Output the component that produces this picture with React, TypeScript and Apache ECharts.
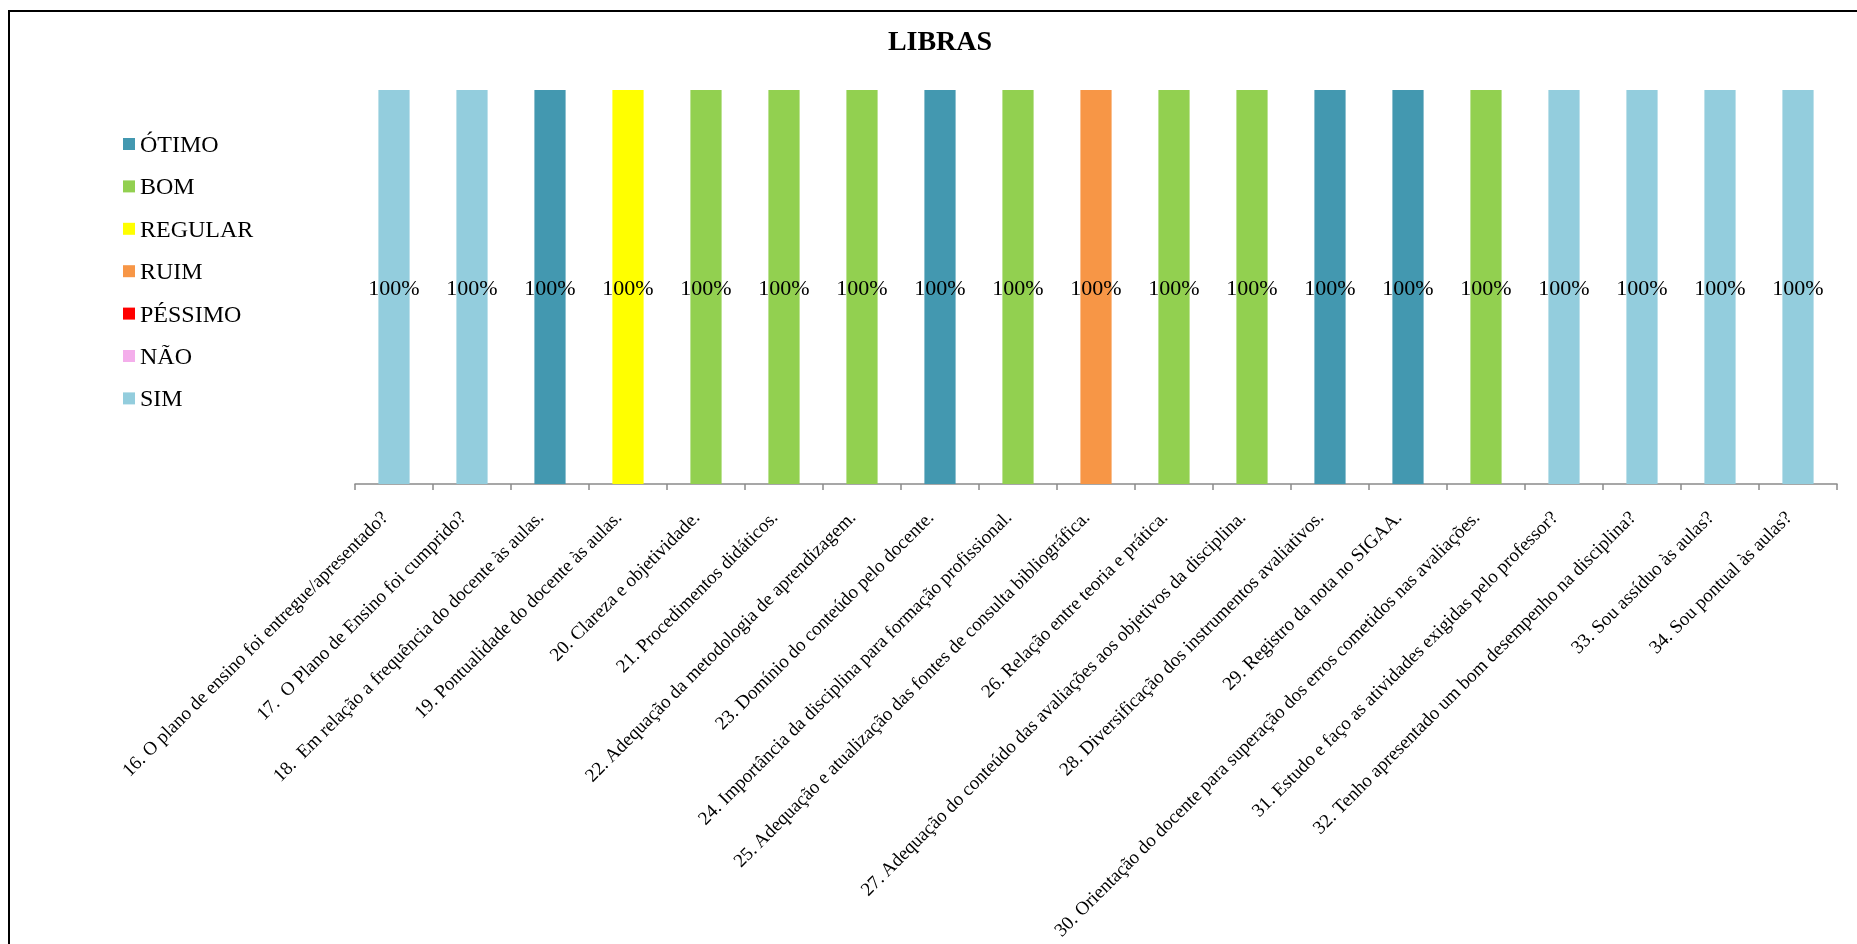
import React, { useEffect, useRef } from "react";
import * as echarts from "echarts";

const title = "LIBRAS";

const categories = [
  "16. O plano de ensino foi entregue/apresentado?",
  "17.  O Plano de Ensino foi cumprido?",
  "18.  Em relação a frequência do docente às aulas.",
  "19. Pontualidade do docente às aulas.",
  "20. Clareza e objetividade.",
  "21. Procedimentos didáticos.",
  "22. Adequação da metodologia de aprendizagem.",
  "23. Domínio do conteúdo pelo docente.",
  "24. Importância da disciplina para formação profissional.",
  "25. Adequação e atualização das fontes de consulta bibliográfica.",
  "26. Relação entre teoria e prática.",
  "27. Adequação do conteúdo das avaliações aos objetivos da disciplina.",
  "28. Diversificação dos instrumentos avaliativos.",
  "29. Registro da nota no SIGAA.",
  "30. Orientação do docente para superação dos erros cometidos nas avaliações.",
  "31. Estudo e faço as atividades exigidas pelo professor?",
  "32. Tenho apresentado um bom desempenho na disciplina?",
  "33. Sou assíduo às aulas?",
  "34. Sou pontual às aulas?",
];

const seriesNames = ["ÓTIMO", "BOM", "REGULAR", "RUIM", "PÉSSIMO", "NÃO", "SIM"];
const seriesColors = ["#4398B0", "#92D050", "#FFFF00", "#F79646", "#FF0000", "#F4AEEB", "#93CDDD"];

const _ = null;
const otimo = [_, _, 1, _, _, _, _, 1, _, _, _, _, 1, 1, _, _, _, _, _];
const bom = [_, _, _, _, 1, 1, 1, _, 1, _, 1, 1, _, _, 1, _, _, _, _];
const regular = [_, _, _, 1, _, _, _, _, _, _, _, _, _, _, _, _, _, _, _];
const ruim = [_, _, _, _, _, _, _, _, _, 1, _, _, _, _, _, _, _, _, _];
const pessimo = [_, _, _, _, _, _, _, _, _, _, _, _, _, _, _, _, _, _, _];
const nao = [_, _, _, _, _, _, _, _, _, _, _, _, _, _, _, _, _, _, _];
const sim = [1, 1, _, _, _, _, _, _, _, _, _, _, _, _, _, 1, 1, 1, 1];

const seriesData = [otimo, bom, regular, ruim, pessimo, nao, sim];

const FONT = "'Liberation Serif', 'Times New Roman', serif";

export default function App() {
  const ref = useRef<HTMLDivElement>(null);

  useEffect(() => {
    if (!ref.current) return;
    const chart = echarts.init(ref.current, null, { renderer: "svg" });
    chart.setOption({
      animation: false,
      backgroundColor: "transparent",
      title: {
        text: title,
        left: "center",
        top: 21,
        textStyle: { fontFamily: FONT, fontSize: 28, fontWeight: "bold", color: "#000" },
      },
      legend: {
        orient: "vertical",
        left: 110,
        top: 127,
        itemWidth: 12,
        itemHeight: 12,
        itemGap: 18.4,
        icon: "rect",
        data: seriesNames,
        textStyle: { fontFamily: FONT, fontSize: 24, color: "#000", lineHeight: 24 },
      },
      grid: { left: 347, right: 35, top: 90, bottom: 460, containLabel: false },
      xAxis: {
        type: "category",
        data: categories,
        axisLine: { show: true, lineStyle: { color: "#8A8A8A", width: 1.5 } },
        axisTick: { show: true, length: 6, lineStyle: { color: "#8A8A8A", width: 1.5 } },
        axisLabel: {
          interval: 0,
          rotate: 45,
          margin: 20,
          padding: [0, 14, 0, 0],
          fontFamily: FONT,
          fontSize: 19,
          color: "#000",
        },
      },
      yAxis: { type: "value", min: 0, max: 1, show: false, splitLine: { show: false } },
      series: seriesNames.map((name, i) => ({
        name,
        type: "bar",
        stack: "total",
        barWidth: "40%",
        data: seriesData[i],
        itemStyle: { color: seriesColors[i] },
        label: {
          show: true,
          position: "inside",
          fontFamily: FONT,
          fontSize: 22,
          color: "#000",
          formatter: (p: any) => (p.value ? Math.round(p.value * 100) + "%" : ""),
        },
      })),
    });
    return () => chart.dispose();
  }, []);

  return (
    <>
      <div
        style={{
          position: "fixed",
          left: 8,
          top: 10,
          width: 2000,
          height: 2000,
          borderTop: "2px solid #000",
          borderLeft: "2px solid #000",
          boxSizing: "border-box",
        }}
      />
      <div
        ref={ref}
        style={{ position: "fixed", left: 8, top: 0, width: 1864, height: 944 }}
      />
    </>
  );
}
